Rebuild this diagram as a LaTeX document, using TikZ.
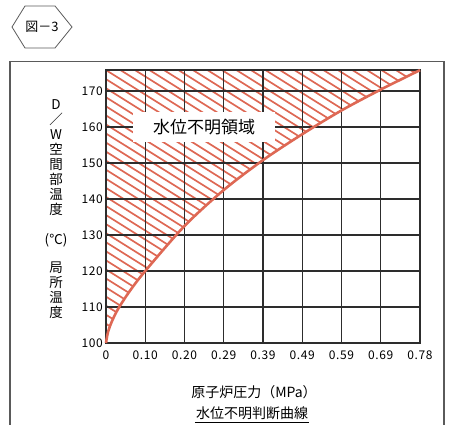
\documentclass[tikz,border=0pt]{standalone}
\usepackage{fontspec}
\setmainfont{Noto Sans CJK JP}
\newfontfamily\tickfont[LetterSpace=5]{Noto Sans CJK JP}
\usetikzlibrary{positioning}
\definecolor{hatchred}{RGB}{222,104,84}
\definecolor{gridgray}{RGB}{45,45,45}
\definecolor{framegray}{RGB}{90,90,90}
\tikzset{
    gridline/.style={draw=gridgray, line width=1.2pt},
    hatchline/.style={draw=hatchred, line width=1.7pt},
    curveline/.style={draw=hatchred, line width=2.6pt},
    ticklabel/.style={font=\tickfont\fontsize{12}{12}\selectfont, inner sep=1pt},
    vlabel/.style={align=center, inner sep=0pt, font=\fontsize{13.5}{15}\selectfont},
    title/.style={inner sep=1pt, font=\fontsize{14}{14}\selectfont}
}

\begin{document}
\begin{tikzpicture}[x=1pt,y=1pt]
  \useasboundingbox (0,0) rectangle (450,425);
  % outer frame and figure number
  \draw[framegray, line width=1.2pt] (10,-5) |- (444,363.5) -- (444,-5);
  \draw[framegray, line width=0.8pt] (12,398) -- (25,419) -- (55,419) -- (72,398) -- (55,377) -- (25,377) -- cycle;
  \node[font=\fontsize{13}{13}\selectfont] (fignum) at (42,398) {図－3};
  % chart, x in steps of 0.098 MPa, y in degC
  \begin{scope}[shift={(106,-278)}, x=39.25pt, y=3.6pt]
    \begin{scope}
      \clip plot[smooth] coordinates {(0,100) (0.05,103) (0.15,106) (0.31,109.5) (0.61,114.5) (1,120) (2,132.5) (3,142.5) (4,150.8) (5,158) (6,164.6) (7,170.4) (8,175.8)} -- (0,175.8) -- cycle;
      \foreach \k in {-30,...,22}
        \draw[hatchline] ([xshift=\k*14.5pt]0,175.8) -- ++(-32:520pt);
    \end{scope}
    \draw[gridline] (0,100) grid[xstep=1, ystep=10] (8,175.8);
    \draw[gridline, line width=1.8pt] (0,100) rectangle (8,175.8);
    \node[fill=white, minimum width=142pt, minimum height=30pt, inner sep=0pt, font=\fontsize{17}{17}\selectfont] (zone) at (2.5,160) {水位不明領域};
    \draw[curveline] plot[smooth] coordinates {(0,100) (0.05,103) (0.15,106) (0.31,109.5) (0.61,114.5) (1,120) (2,132.5) (3,142.5) (4,150.8) (5,158) (6,164.6) (7,170.4) (8,175.8)};
    % tick labels
    \foreach \t in {100,110,...,170}
      \node[ticklabel, anchor=east] (ty\t) at ([xshift=-2pt]0,\t) {\t};
    \foreach \p/\lab in {0/0,1/0.10,2/0.20,3/0.29,4/0.39,5/0.49,6/0.59,7/0.69,8/0.78}
      \node[ticklabel] (tx\p) at ([yshift=-12pt]\p,100) {\lab};
  \end{scope}
  % axis titles
  \node[vlabel] (ylabel) at (56,267.5) {D\\／\\W\\空\\間\\部\\温\\度};
  \node[vlabel] (unit) at (56,185) {(℃)};
  \node[vlabel] (local) at (56,134.5) {局\\所\\温\\度};
  \node[title] (xtitle) at (254,33) {原子炉圧力（MPa）};
  \node[title] (caption) at (252,12) {水位不明判断曲線};
  \draw[line width=1.3pt] ([yshift=-1.5pt]caption.south west) -- ([yshift=-1.5pt]caption.south east);
\end{tikzpicture}
\end{document}
